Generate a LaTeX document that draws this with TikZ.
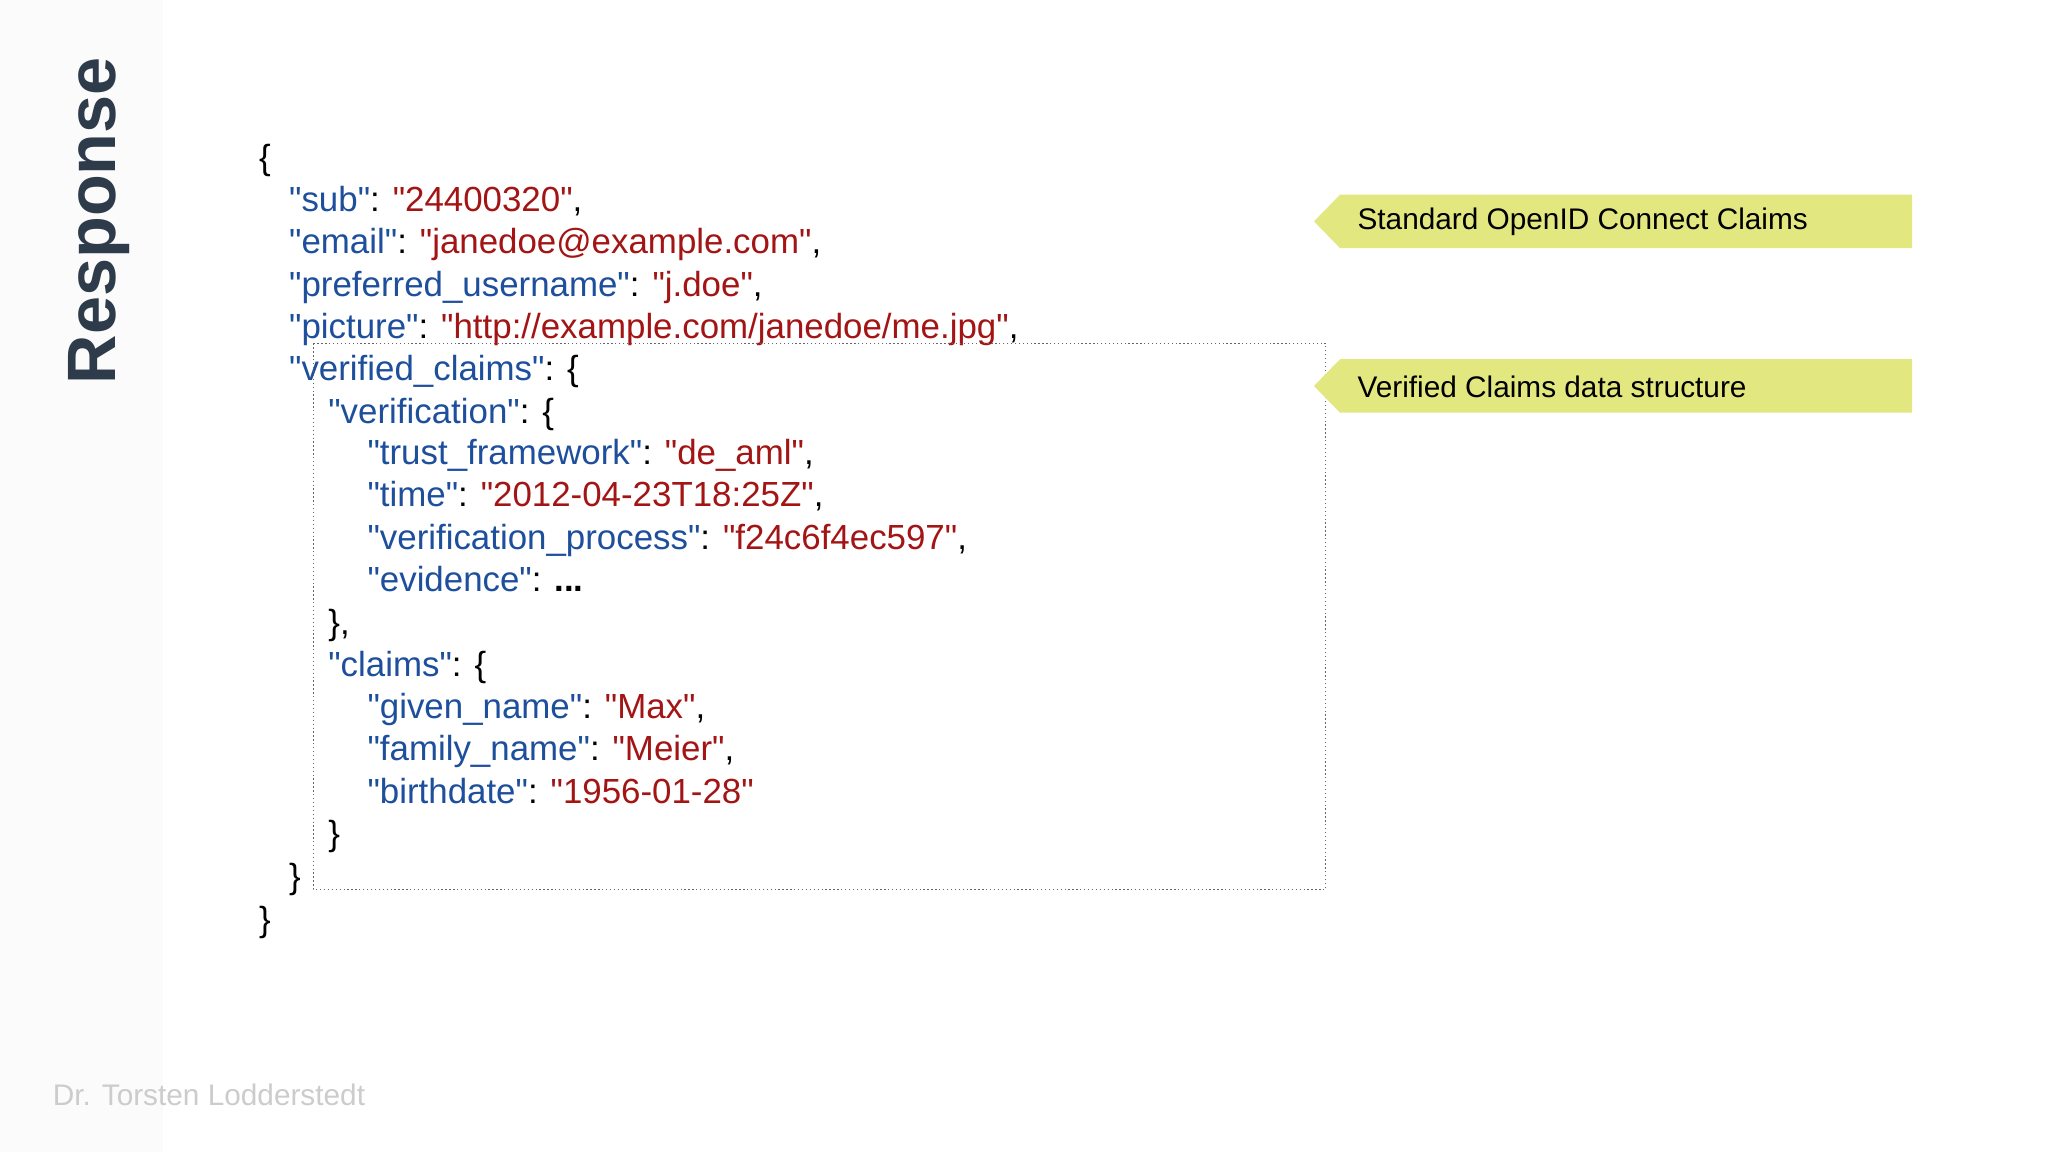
\documentclass[tikz,border=0pt]{standalone}
\usepackage{fontspec}
\setmainfont{Liberation Sans}
\newfontfamily\codefont{Liberation Sans}
\definecolor{kb}{HTML}{1D4F9C}
\definecolor{vr}{HTML}{A31515}
\definecolor{tagc}{HTML}{E3E77F}
\definecolor{ttl}{HTML}{2E3B4A}
\begin{document}
\begin{tikzpicture}[x=0.5pt,y=-0.5pt,
  code/.style={anchor=base west,inner sep=0pt,font=\codefont\fontsize{13.35}{15}\selectfont},
  tag/.style={fill=tagc},
  tagtext/.style={anchor=west,inner sep=0pt,font=\fontsize{11.4}{13}\selectfont}]
\useasboundingbox (0,0) rectangle (1568,882);
\fill[white] (0,0) rectangle (1568,882);
\fill[gray!3] (0,0) rectangle (125,882);
\node[rotate=90,anchor=center,font=\bfseries\fontsize{26.2}{30}\selectfont,text=ttl] (title) at (76,169) {Response};
\newcommand{\K}[1]{\textcolor{kb}{"#1"}}
\newcommand{\V}[1]{\textcolor{vr}{"#1"}}
\node[code] (l0) at (198,130) {\{};
\node[code] (l1) at (221,162) {\K{sub}: \V{24400320},};
\node[code] (l2) at (221,194) {\K{email}: \V{janedoe@example.com},};
\node[code] (l3) at (221,227) {\K{preferred\_username}: \V{j.doe},};
\node[code] (l4) at (221,259) {\K{picture}: \V{http://example.com/janedoe/me.jpg},};
\node[code] (l5) at (221,291) {\K{verified\_claims}: \{};
\node[code] (l6) at (251,324) {\K{verification}: \{};
\node[code] (l7) at (281,356) {\K{trust\_framework}: \V{de\_aml},};
\node[code] (l8) at (281,388) {\K{time}: \V{2012-04-23T18:25Z},};
\node[code] (l9) at (281,421) {\K{verification\_process}: \V{f24c6f4ec597},};
\node[code] (l10) at (281,453) {\K{evidence}: \textbf{...}};
\node[code] (l11) at (251,486) {\},};
\node[code] (l12) at (251,518) {\K{claims}: \{};
\node[code] (l13) at (281,550) {\K{given\_name}: \V{Max},};
\node[code] (l14) at (281,582) {\K{family\_name}: \V{Meier},};
\node[code] (l15) at (281,615) {\K{birthdate}: \V{1956-01-28}};
\node[code] (l16) at (251,647) {\}};
\node[code] (l17) at (221,680) {\}};
\node[code] (l18) at (198,713) {\}};
\draw[densely dotted,gray!80!black,line width=0.5pt] (240,263) rectangle (1015,681);
\fill[tag] (1006,169.5) -- (1026,149) -- (1464,149) -- (1464,190) -- (1026,190) -- cycle;
\node[tagtext] (t1) at (1039,170) {Standard OpenID Connect Claims};
\fill[tag] (1006,295.5) -- (1026,275) -- (1464,275) -- (1464,316) -- (1026,316) -- cycle;
\node[tagtext] (t2) at (1039,296) {Verified Claims data structure};
\node[anchor=west,inner sep=0pt,text=gray!40,font=\fontsize{11.4}{13}\selectfont] (foot) at (40,838) {Dr. Torsten Lodderstedt};
\end{tikzpicture}
\end{document}
